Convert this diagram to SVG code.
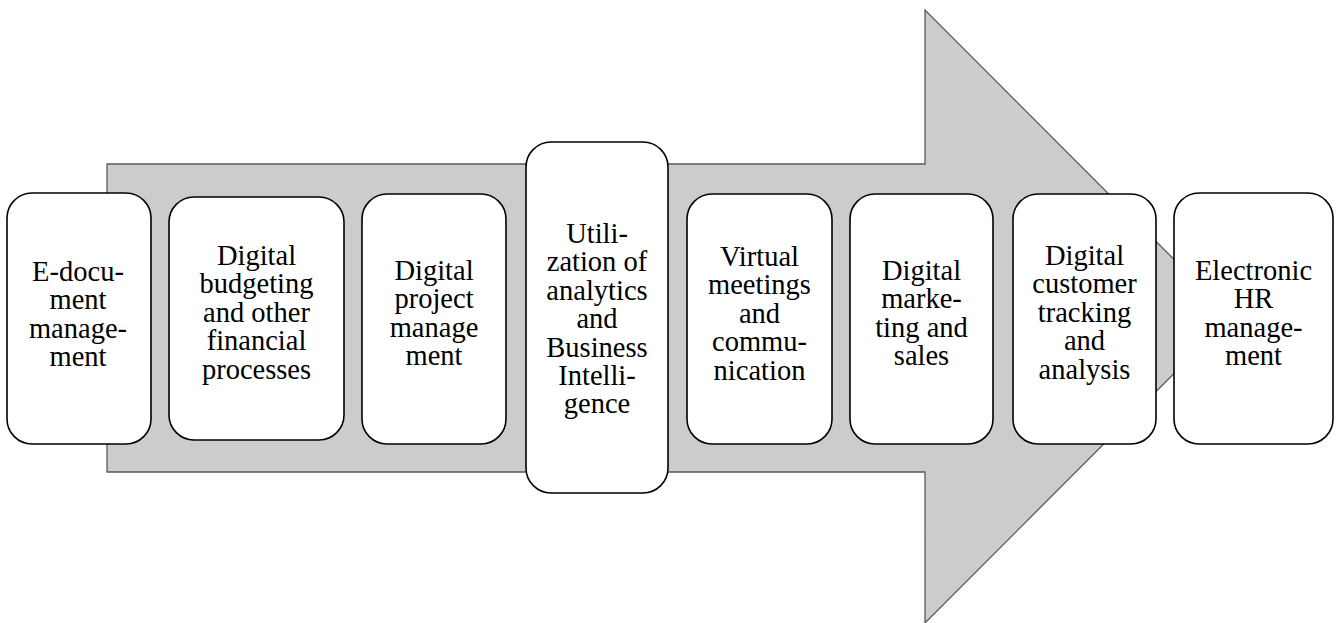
<svg xmlns="http://www.w3.org/2000/svg" width="1338" height="623" viewBox="0 0 1338 623">
<style>
.box{fill:#ffffff;stroke:#000000;stroke-width:1.6}
.t{font-family:"Liberation Serif","Times New Roman",serif;font-size:28.5px;fill:#000000;text-anchor:middle}
</style>
<rect width="1338" height="623" fill="#ffffff"/>
<g id="arrow">
<polygon points="107,164 925,164 925,10 1231,316.5 925,623 925,472 107,472" fill="#cccccc" stroke="#5a5a5a" stroke-width="1.3"/>
</g>
<g id="connectors"></g>
<g id="n1"><rect class="box" x="7" y="193" width="144" height="251" rx="25"/>
<text class="t" x="78" y="281"><tspan x="78">E-docu-</tspan><tspan x="78" dy="28.4">ment</tspan><tspan x="78" dy="28.4">manage-</tspan><tspan x="78" dy="28.4">ment</tspan></text></g>
<g id="n2"><rect class="box" x="169" y="197" width="175" height="243" rx="25"/>
<text class="t" x="256.5" y="265"><tspan x="256.5">Digital</tspan><tspan x="256.5" dy="28.4">budgeting</tspan><tspan x="256.5" dy="28.4">and other</tspan><tspan x="256.5" dy="28.4">financial</tspan><tspan x="256.5" dy="28.4">processes</tspan></text></g>
<g id="n3"><rect class="box" x="362" y="194" width="144" height="250" rx="25"/>
<text class="t" x="434" y="280"><tspan x="434">Digital</tspan><tspan x="434" dy="28.4">project</tspan><tspan x="434" dy="28.4">manage</tspan><tspan x="434" dy="28.4">ment</tspan></text></g>
<g id="n4"><rect class="box" x="526" y="142" width="142" height="351" rx="25"/>
<text class="t" x="597" y="243"><tspan x="597">Utili-</tspan><tspan x="597" dy="28.4">zation of</tspan><tspan x="597" dy="28.4">analytics</tspan><tspan x="597" dy="28.4">and</tspan><tspan x="597" dy="28.4">Business</tspan><tspan x="597" dy="28.4">Intelli-</tspan><tspan x="597" dy="28.4">gence</tspan></text></g>
<g id="n5"><rect class="box" x="687" y="194" width="145" height="250" rx="25"/>
<text class="t" x="759.5" y="266"><tspan x="759.5">Virtual</tspan><tspan x="759.5" dy="28.4">meetings</tspan><tspan x="759.5" dy="28.4">and</tspan><tspan x="759.5" dy="28.4">commu-</tspan><tspan x="759.5" dy="28.4">nication</tspan></text></g>
<g id="n6"><rect class="box" x="850" y="194" width="143" height="250" rx="25"/>
<text class="t" x="921.5" y="280"><tspan x="921.5">Digital</tspan><tspan x="921.5" dy="28.4">marke-</tspan><tspan x="921.5" dy="28.4">ting and</tspan><tspan x="921.5" dy="28.4">sales</tspan></text></g>
<g id="n7"><rect class="box" x="1013" y="194" width="143" height="250" rx="25"/>
<text class="t" x="1084.5" y="265"><tspan x="1084.5">Digital</tspan><tspan x="1084.5" dy="28.4">customer</tspan><tspan x="1084.5" dy="28.4">tracking</tspan><tspan x="1084.5" dy="28.4">and</tspan><tspan x="1084.5" dy="28.4">analysis</tspan></text></g>
<g id="n8"><rect class="box" x="1174" y="193" width="159" height="251" rx="25"/>
<text class="t" x="1253.5" y="280"><tspan x="1253.5">Electronic</tspan><tspan x="1253.5" dy="28.4">HR</tspan><tspan x="1253.5" dy="28.4">manage-</tspan><tspan x="1253.5" dy="28.4">ment</tspan></text></g>
</svg>
